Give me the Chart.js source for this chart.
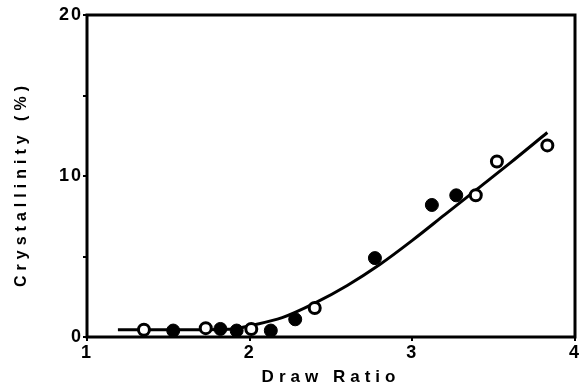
<!DOCTYPE html>
<html lang="en">
<head>
  <meta charset="UTF-8" />
  <title>Crystallinity vs Draw Ratio</title>
  <script src="https://cdn.jsdelivr.net/npm/chart.js"></script>
  <style>
    html, body { margin: 0; padding: 0; background: #fff; }
    #wrap { width: 579px; height: 386px; }
  </style>
</head>
<body>
  <div id="wrap"><canvas id="c"></canvas></div>
  <script>
    // open circles
    const openX = [1.35, 1.73, 2.01, 2.40, 3.39, 3.52, 3.83];
    const openY = [0.45, 0.55, 0.5, 1.8, 8.8, 10.9, 11.9];
    // filled circles
    const fillX = [1.53, 1.82, 1.92, 2.13, 2.28, 2.77, 3.12, 3.27];
    const fillY = [0.4, 0.5, 0.4, 0.4, 1.1, 4.9, 8.2, 8.8];
    // fitted curve
    const fitX = [1.19, 1.6, 1.9, 2.0, 2.2, 2.4, 2.6, 2.8, 3.0, 3.2, 3.4, 3.6, 3.83];
    const fitY = [0.45, 0.45, 0.5, 0.7, 1.2, 2.1, 3.2, 4.5, 6.0, 7.6, 9.2, 10.8, 12.7];
    const xTicks = [1, 2, 3, 4];
    const yTicks = [0, 5, 10, 15, 20];
    const yLabels = ['0', '', '10', '', '20'];
    const xTitle = 'Draw Ratio';
    const yTitle = 'Crystallinity (%)';

    const pts = (xs, ys) => xs.map((x, i) => ({ x: x, y: ys[i] }));
    const tickFont = { family: 'Liberation Sans', weight: 'bold', size: 18 };

    // frame around the plot + spaced-out axis titles
    const frame = {
      id: 'frame',
      beforeDraw(chart) {
        chart.ctx.letterSpacing = '2px';
      },
      afterDatasetsDraw(chart) {
        const { ctx, chartArea: a } = chart;
        ctx.save();
        ctx.strokeStyle = '#000';
        ctx.lineWidth = 3;
        ctx.strokeRect(a.left, a.top, a.right - a.left, a.bottom - a.top);
        ctx.restore();
      },
      afterDraw(chart) {
        const { ctx, chartArea: a } = chart;
        ctx.save();
        ctx.fillStyle = '#000';
        ctx.textAlign = 'center';
        ctx.textBaseline = 'middle';
        ctx.letterSpacing = '5px';
        ctx.font = 'bold 17px "Liberation Sans"';
        ctx.fillText(xTitle, 331, 377);
        ctx.translate(22, (a.top + a.bottom) / 2 + 8);
        ctx.rotate(-Math.PI / 2);
        ctx.font = 'bold 16px "Liberation Sans"';
        ctx.fillText(yTitle, 0, 0);
        ctx.restore();
      }
    };

    new Chart(document.getElementById('c'), {
      type: 'scatter',
      data: {
        datasets: [
          {
            data: pts(fitX, fitY),
            showLine: true,
            borderColor: '#000',
            borderWidth: 3,
            pointRadius: 0,
            cubicInterpolationMode: 'monotone',
            order: 3
          },
          {
            data: pts(fillX, fillY),
            pointRadius: 6.5,
            backgroundColor: '#000',
            borderColor: '#000',
            borderWidth: 1,
            order: 2
          },
          {
            data: pts(openX, openY),
            pointRadius: 5.5,
            backgroundColor: '#fff',
            borderColor: '#000',
            borderWidth: 3,
            order: 1
          }
        ]
      },
      options: {
        responsive: true,
        maintainAspectRatio: false,
        animation: false,
        layout: { autoPadding: false, padding: { left: 0, right: 4, top: 15, bottom: 0 } },
        plugins: { legend: { display: false }, tooltip: { enabled: false } },
        scales: {
          x: {
            type: 'linear',
            min: 1, max: 4,
            afterBuildTicks: s => { s.ticks = xTicks.map(v => ({ value: v })); },
            afterFit: s => { s.height = 49; s.paddingLeft = 0; s.paddingRight = 0; },
            grid: { drawOnChartArea: false, drawTicks: true, tickLength: 4, color: '#000', lineWidth: 2 },
            border: { display: false },
            ticks: { color: '#000', padding: 1, font: tickFont }
          },
          y: {
            type: 'linear',
            min: 0, max: 20,
            afterBuildTicks: s => { s.ticks = yTicks.map(v => ({ value: v })); },
            afterFit: s => { s.width = 87; s.paddingTop = 0; s.paddingBottom = 0; },
            grid: { drawOnChartArea: false, drawTicks: true, tickLength: 4, color: '#000', lineWidth: 2 },
            border: { display: false },
            ticks: {
              color: '#000',
              padding: 0,
              callback: (v, i) => yLabels[i],
              font: tickFont
            }
          }
        }
      },
      plugins: [frame]
    });
  </script>
</body>
</html>
